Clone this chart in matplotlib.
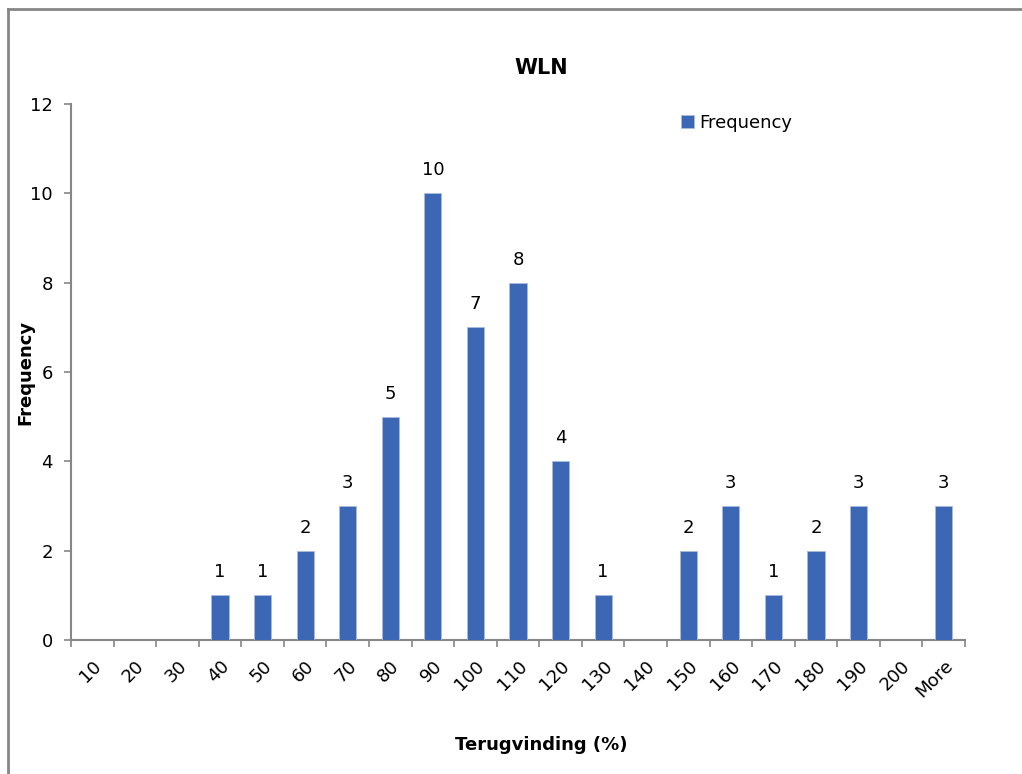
import matplotlib
matplotlib.use("Agg")
import matplotlib.pyplot as plt
from matplotlib.lines import Line2D
import numpy as np

categories = ["10", "20", "30", "40", "50", "60", "70", "80", "90", "100", "110",
              "120", "130", "140", "150", "160", "170", "180", "190", "200", "More"]
frequency = [0, 0, 0, 1, 1, 2, 3, 5, 10, 7, 8, 4, 1, 0, 2, 3, 1, 2, 3, 0, 3]

plt.rcParams['font.family'] = ['DejaVu Sans']
bar_color = "#3C67B4"
axis_color = "#868686"

fig = plt.figure(figsize=(10.22, 7.74), dpi=100)
ax = fig.add_axes([71/1022, 1-640/774, (965-71)/1022, (640-104)/774])

x = np.arange(len(categories))
bars = ax.bar(x, frequency, width=0.4, color=bar_color, edgecolor="#A9BCE0",
              linewidth=0.6, label="Frequency", zorder=3)

for xi, v in zip(x, frequency):
    if v > 0:
        ax.annotate(str(v), (xi, v), xytext=(0, 10), textcoords="offset points",
                    ha="center", va="bottom", fontsize=13, color="black")

ax.set_xlim(-0.5, len(categories) - 0.5)
ax.set_ylim(0, 12)
ax.set_yticks(range(0, 13, 2))
ax.tick_params(axis='y', labelsize=13, length=5, color=axis_color, width=1.2, pad=8)

ax.set_xticks(x)
ax.set_xticklabels(categories, rotation=45, ha="right", rotation_mode="anchor", fontsize=13)
ax.tick_params(axis='x', length=0, pad=12)
# category boundary ticks
ax.set_xticks(np.arange(-0.5, len(categories) + 0.5, 1), minor=True)
ax.tick_params(axis='x', which='minor', length=5, color=axis_color, width=1.2)

for s in ["top", "right"]:
    ax.spines[s].set_visible(False)
for s in ["left", "bottom"]:
    ax.spines[s].set_color(axis_color)
    ax.spines[s].set_linewidth(1.5)

fig.text(541/1022, 1-68/774, "WLN", ha="center", va="center", fontsize=15, fontweight="bold")
fig.text(25/1022, 1-372/774, "Frequency", ha="center", va="center", rotation=90,
         fontsize=13, fontweight="bold")
fig.text(541/1022, 1-745/774, "Terugvinding (%)", ha="center", va="center",
         fontsize=13, fontweight="bold")

leg = ax.legend(loc="upper left", bbox_to_anchor=((674-71)/894, (640-104)/536 - 0.005),
                frameon=False, fontsize=13, handlelength=0.7, handleheight=0.7,
                handletextpad=0.3, borderaxespad=0)

# outer chart frame (top and left visible)
fig.add_artist(Line2D([8/1022, 8/1022], [0, 1-9/774], transform=fig.transFigure,
                      color=axis_color, linewidth=2))
fig.add_artist(Line2D([8/1022, 1], [1-9/774, 1-9/774], transform=fig.transFigure,
                      color=axis_color, linewidth=2))

fig.savefig("out.png", dpi=100)
